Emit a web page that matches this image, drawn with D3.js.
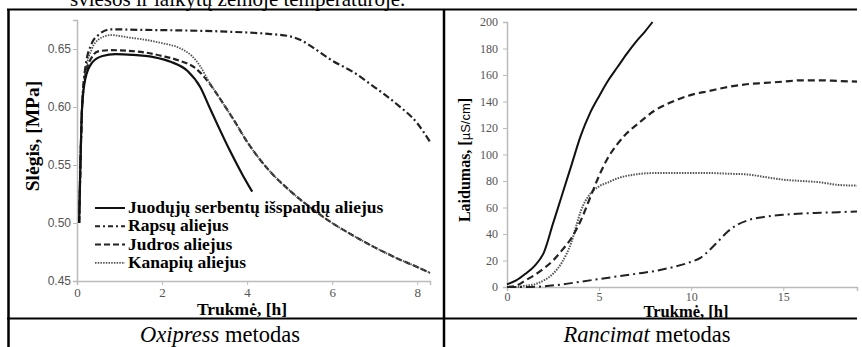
<!DOCTYPE html>
<html>
<head>
<meta charset="utf-8">
<script src="https://cdn.jsdelivr.net/npm/d3@7"></script>
<style>
  html, body { margin: 0; padding: 0; background: #fff; }
  svg { display: block; }
</style>
</head>
<body>
<svg id="fig" width="862" height="347"></svg>
<script>
// ---- Oxipress: pressure vs time ----
const oxiTicksX = [0, 2, 4, 6, 8];
const oxiTicksY = [0.45, 0.50, 0.55, 0.60, 0.65];
// shared tail of the Judros and Kanapių curves once they merge
const oxiTail = [
  [3.7, 0.588], [4.0, 0.570], [4.5, 0.546], [5.0, 0.528], [5.5, 0.513], [6.0, 0.500],
  [6.5, 0.489], [7.0, 0.479], [7.5, 0.470], [8.0, 0.462], [8.3, 0.457]
];
const oxiJuoduju = [
  [0.05, 0.500], [0.08, 0.550], [0.12, 0.600], [0.2, 0.625], [0.35, 0.638], [0.6, 0.644],
  [0.9, 0.6455], [1.3, 0.645], [1.8, 0.643], [2.2, 0.639], [2.6, 0.631], [2.9, 0.617],
  [3.1, 0.601], [3.3, 0.585], [3.6, 0.562], [3.9, 0.541], [4.12, 0.527]
];
const oxiRapsu = [
  [0.05, 0.500], [0.08, 0.550], [0.12, 0.600], [0.2, 0.635], [0.35, 0.655], [0.5, 0.662],
  [0.8, 0.667], [1.5, 0.6665], [2.5, 0.666], [3.5, 0.665], [4.5, 0.663], [5.0, 0.661],
  [5.3, 0.657], [5.6, 0.650], [6.0, 0.640], [6.5, 0.630], [7.0, 0.617], [7.5, 0.603],
  [8.0, 0.586], [8.3, 0.570]
];
const oxiJudros = [
  [0.05, 0.500], [0.08, 0.550], [0.12, 0.600], [0.2, 0.628], [0.35, 0.643], [0.5, 0.648],
  [0.8, 0.649], [1.2, 0.6485], [1.6, 0.647], [2.0, 0.644], [2.4, 0.640], [2.8, 0.633],
  [3.1, 0.621], [3.4, 0.605]
].concat(oxiTail);
const oxiKanapiu = [
  [0.05, 0.500], [0.08, 0.550], [0.12, 0.600], [0.2, 0.630], [0.35, 0.650], [0.5, 0.658],
  [0.8, 0.662], [1.2, 0.660], [1.6, 0.658], [2.0, 0.655], [2.4, 0.651], [2.7, 0.644],
  [2.9, 0.635], [3.1, 0.622], [3.4, 0.605]
].concat(oxiTail);
const oxiLegend = [
  "Juodųjų serbentų išspaudų aliejus",
  "Rapsų aliejus",
  "Judros aliejus",
  "Kanapių aliejus"
];

// ---- Rancimat: conductivity vs time ----
const ranTicksX = [0, 5, 10, 15];
const ranTicksY = [0, 20, 40, 60, 80, 100, 120, 140, 160, 180, 200];
const ranSolid = [
  [0, 2], [0.5, 5], [1.0, 10], [1.5, 16], [2.0, 26], [2.5, 48], [3.0, 70], [3.5, 92],
  [4.0, 114], [4.5, 131], [5.0, 144], [5.5, 156], [6.0, 166], [6.5, 176], [7.0, 185],
  [7.5, 193], [7.9, 200]
];
const ranDashed = [
  [0, 0], [0.5, 1], [1.0, 5], [1.5, 9], [2.0, 14], [2.5, 20], [3.0, 28], [3.5, 37],
  [4.0, 50], [4.5, 67], [5.0, 84], [5.5, 98], [6.0, 108], [6.5, 116], [7.0, 122],
  [8.0, 133], [9.0, 140], [10.0, 145], [11.0, 148], [12.0, 151], [13.0, 153],
  [14.0, 154], [15.0, 155], [16.0, 156], [17.0, 156], [18.0, 155.5], [19.0, 155]
];
const ranDotted = [
  [0, 0], [0.5, 0], [1.0, 1], [1.5, 2], [2.0, 5], [2.5, 10], [3.0, 19], [3.5, 34],
  [3.8, 48], [4.0, 57], [4.5, 70], [5.0, 76], [5.5, 79], [6.0, 82], [7.0, 85],
  [8.0, 86], [9.0, 86], [10.0, 86], [11.0, 86], [12.0, 85.5], [13.0, 85], [14.0, 83],
  [15.0, 81], [16.0, 80], [17.0, 79], [18.0, 77], [19.0, 76.5]
];
const ranDashDot = [
  [0, 0], [1, 0], [2, 0.5], [3, 2], [4, 4], [5, 6], [6, 8], [7, 10], [8, 12], [9, 15],
  [10, 19], [10.5, 22], [11, 28], [11.5, 35], [12, 42], [12.5, 47], [13, 50], [14, 53],
  [15, 54.5], [16, 55.5], [17, 56], [18, 56.5], [19, 57]
];

const svg = d3.select("#fig");
const serif = "'Liberation Serif', 'Times New Roman', serif";
const sans = "'Liberation Sans', Arial, sans-serif";

// caption text above the table, partly cut off by the top edge
svg.append("text")
  .attr("x", 70).attr("y", 6)
  .attr("font-family", serif).attr("font-size", 21)
  .text("šviesos ir laikytų žemoje temperatūroje.");

// ---------- left panel ----------
const ox = d3.scaleLinear().domain([0, 8.3]).range([77, 430]);
const oy = d3.scaleLinear().domain([0.45, 0.675]).range([281, 20]);

const gL = svg.append("g");
const yAxL = gL.append("g").attr("transform", `translate(${ox(0)},0)`)
  .call(d3.axisLeft(oy).tickValues(oxiTicksY).tickFormat(d3.format(".2f")).tickSize(4).tickPadding(2));
yAxL.selectAll("text").attr("font-family", sans).attr("font-size", 12).attr("fill", "#555");
const xAxL = gL.append("g").attr("transform", `translate(0,${oy(0.45)})`)
  .call(d3.axisBottom(ox).tickValues(oxiTicksX).tickFormat(d3.format("d")).tickSize(4).tickPadding(3));
xAxL.selectAll("text").attr("font-family", serif).attr("font-size", 13).attr("fill", "#555");
[yAxL, xAxL].forEach(a => {
  a.select(".domain").attr("stroke", "#bbb").attr("stroke-width", 1.5);
  a.selectAll(".tick line").attr("stroke", "#bbb");
});

const lineL = d3.line().x(d => ox(d[0])).y(d => oy(d[1])).curve(d3.curveMonotoneX);
const oxiSeries = [
  { data: oxiJudros, dash: "6,3", width: 2.2, color: "#222" },
  { data: oxiKanapiu, dash: "1.5,1.2", width: 1.8, color: "#555" },
  { data: oxiRapsu, dash: "7,3,2,3", width: 2.2, color: "#222" },
  { data: oxiJuoduju, dash: null, width: 2.2, color: "#111" }
];
oxiSeries.forEach(s => {
  gL.append("path").datum(s.data)
    .attr("d", lineL).attr("fill", "none")
    .attr("stroke", s.color).attr("stroke-width", s.width)
    .attr("stroke-dasharray", s.dash);
});

// legend
const legStyles = [
  { dash: null, width: 2, color: "#111" },
  { dash: "5,3,2,3", width: 2, color: "#222" },
  { dash: "6,3", width: 2, color: "#222" },
  { dash: "1.5,1.2", width: 1.6, color: "#555" }
];
oxiLegend.forEach((name, i) => {
  const yy = 208 + i * 18.3;
  gL.append("line").attr("x1", 95).attr("x2", 125).attr("y1", yy).attr("y2", yy)
    .attr("stroke", legStyles[i].color).attr("stroke-width", legStyles[i].width)
    .attr("stroke-dasharray", legStyles[i].dash);
  gL.append("text").attr("x", 128).attr("y", yy + 5)
    .attr("font-family", serif).attr("font-weight", "bold").attr("font-size", 17.5)
    .text(name);
});

gL.append("text").attr("transform", "translate(39,136) rotate(-90)")
  .attr("text-anchor", "middle").attr("font-family", serif).attr("font-weight", "bold")
  .attr("font-size", 19.5).text("Slėgis, [MPa]");
gL.append("text").attr("x", 242).attr("y", 315)
  .attr("text-anchor", "middle").attr("font-family", serif).attr("font-weight", "bold")
  .attr("font-size", 17.5).text("Trukmė, [h]");

// ---------- right panel ----------
const rx = d3.scaleLinear().domain([0, 19]).range([507, 857]);
const ry = d3.scaleLinear().domain([0, 200]).range([287, 22]);

const gR = svg.append("g");
const yAxR = gR.append("g").attr("transform", `translate(${rx(0)},0)`)
  .call(d3.axisLeft(ry).tickValues(ranTicksY).tickSize(4).tickPadding(5));
yAxR.selectAll("text").attr("font-family", serif).attr("font-size", 12).attr("fill", "#555");
const xAxR = gR.append("g").attr("transform", `translate(0,${ry(0)})`)
  .call(d3.axisBottom(rx).tickValues(ranTicksX).tickSize(4).tickPadding(1));
xAxR.selectAll("text").attr("font-family", serif).attr("font-size", 12).attr("fill", "#555");
[yAxR, xAxR].forEach(a => {
  a.select(".domain").attr("stroke", "#bbb").attr("stroke-width", 1.5);
  a.selectAll(".tick line").attr("stroke", "#bbb");
});

const lineR = d3.line().x(d => rx(d[0])).y(d => ry(d[1])).curve(d3.curveMonotoneX);
const ranSeries = [
  { data: ranDotted, dash: "1.5,1.2", width: 2, color: "#555" },
  { data: ranDashDot, dash: "9,4,2,4", width: 2, color: "#222" },
  { data: ranDashed, dash: "7,4", width: 2.2, color: "#222" },
  { data: ranSolid, dash: null, width: 2, color: "#111" }
];
ranSeries.forEach(s => {
  gR.append("path").datum(s.data)
    .attr("d", lineR).attr("fill", "none")
    .attr("stroke", s.color).attr("stroke-width", s.width)
    .attr("stroke-dasharray", s.dash);
});

const yTitleR = gR.append("text").attr("transform", "translate(470,160) rotate(-90)")
  .attr("text-anchor", "middle").attr("font-family", serif).attr("font-weight", "bold")
  .attr("font-size", 16);
yTitleR.append("tspan").text("Laidumas, [");
yTitleR.append("tspan").attr("font-weight", "normal").attr("font-family", sans).attr("font-size", 13).text("µS/cm");
yTitleR.append("tspan").text("]");
gR.append("text").attr("x", 686).attr("y", 317)
  .attr("text-anchor", "middle").attr("font-family", serif).attr("font-weight", "bold")
  .attr("font-size", 16.5).text("Trukmė, [h]");

// ---------- table frame and captions ----------
const frame = svg.append("g").attr("stroke", "#000").attr("fill", "none");
frame.append("line").attr("x1", 7).attr("x2", 857).attr("y1", 9.5).attr("y2", 9.5).attr("stroke-width", 2);
frame.append("line").attr("x1", 7).attr("x2", 857).attr("y1", 318.5).attr("y2", 318.5).attr("stroke-width", 2);
frame.append("line").attr("x1", 8.5).attr("x2", 8.5).attr("y1", 9).attr("y2", 347).attr("stroke-width", 2.5);
frame.append("line").attr("x1", 444).attr("x2", 444).attr("y1", 9).attr("y2", 347).attr("stroke-width", 2.5);

const cap1 = svg.append("text").attr("x", 220).attr("y", 342).attr("text-anchor", "middle")
  .attr("font-family", serif).attr("font-size", 22.5);
cap1.append("tspan").attr("font-style", "italic").text("Oxipress");
cap1.append("tspan").text(" metodas");
const cap2 = svg.append("text").attr("x", 647).attr("y", 342).attr("text-anchor", "middle")
  .attr("font-family", serif).attr("font-size", 22.5);
cap2.append("tspan").attr("font-style", "italic").text("Rancimat");
cap2.append("tspan").text(" metodas");
</script>
</body>
</html>
